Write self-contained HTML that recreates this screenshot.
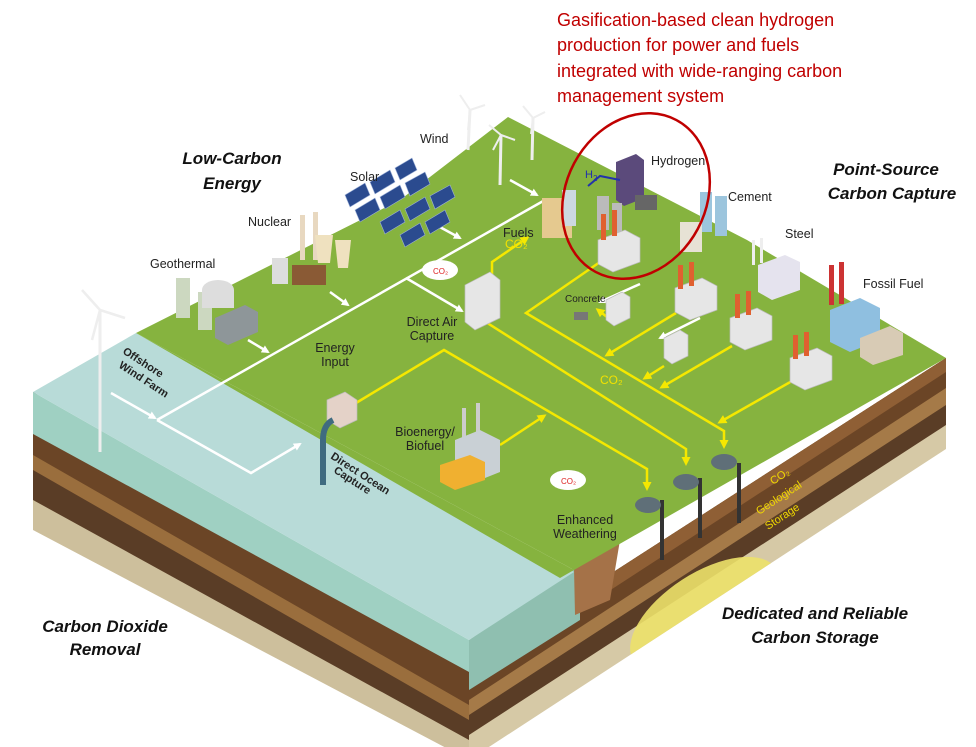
<!DOCTYPE html>
<html><head><meta charset="utf-8"><style>
html,body{margin:0;padding:0;background:#fff;}
svg{display:block}
text{font-family:"Liberation Sans",Arial,sans-serif;}
.lb{font-size:12.5px;fill:#222;}
.big{font-size:17px;font-weight:bold;font-style:italic;fill:#111;}
.red{font-size:18px;fill:#c00000;}
.co{font-size:12px;fill:#f2e200;}
</style></head><body>
<svg width="976" height="747" viewBox="0 0 976 747" xmlns="http://www.w3.org/2000/svg">
<defs>
<marker id="aw" markerWidth="8" markerHeight="8" refX="6" refY="4" orient="auto" markerUnits="userSpaceOnUse"><path d="M0,0 L8,4 L0,8 Z" fill="#fff"/></marker>
<marker id="ay" markerWidth="9" markerHeight="9" refX="6" refY="4.5" orient="auto" markerUnits="userSpaceOnUse"><path d="M0,0 L9,4.5 L0,9 Z" fill="#f5e800"/></marker>
<clipPath id="rf"><polygon points="946,358 946,449 469,760 469,665"/></clipPath>
</defs>
<!-- front-right face layers -->
<polygon points="946,358 946,449 469,760 469,665" fill="#d6c9a6"/>
<polygon points="946,358 946,425 469,735 469,665" fill="#5a3d26"/>
<polygon points="946,358 946,405 469,715 469,665" fill="#a57a48"/>
<polygon points="946,358 946,388 469,700 469,665" fill="#6b4526"/>
<polygon points="946,358 946,372 469,682 469,665" fill="#8f5f35"/>
<g clip-path="url(#rf)"><ellipse cx="705" cy="615" rx="85" ry="42" fill="#ece16a" transform="rotate(-33 705 615)" opacity="0.9"/></g>
<!-- left face layers -->
<polygon points="33,392 33,530 469,760 469,668" fill="#cdbf9c"/>
<polygon points="33,392 33,500 469,740 469,668" fill="#5a3d26"/>
<polygon points="33,392 33,470 469,720 469,668" fill="#9a6e3d"/>
<polygon points="33,392 33,455 469,705 469,668" fill="#6b4526"/>
<polygon points="33,392 33,434 469,672 469,640" fill="#9fd0c2"/>
<!-- cliff -->
<polygon points="469,640 574,568 580,568 580,620 469,690" fill="#8fbfb0"/>
<polygon points="574,568 620,540 610,600 575,615" fill="#a57248"/>
<!-- water top -->
<polygon points="136,333 33,392 469,640 574,572" fill="#b8dbd8"/>
<!-- green top -->
<polygon points="136,333 400,200 508,117 747,240 946,358 574,570" fill="#86b33f"/>
<polygon points="136,333 574,570 560,578" fill="#86b33f"/>
<!-- white energy lines -->
<g stroke="#fff" stroke-width="2.5" fill="none">
<line x1="111" y1="393" x2="155" y2="418" marker-end="url(#aw)"/>
<polyline points="157,420 251,473 300,444" marker-end="url(#aw)"/>
<polyline points="157,420 545,200"/>
<line x1="406" y1="278" x2="462" y2="311" marker-end="url(#aw)"/>
<line x1="330" y1="292" x2="348" y2="305" marker-end="url(#aw)"/>
<line x1="248" y1="340" x2="268" y2="352" marker-end="url(#aw)"/>
<line x1="438" y1="226" x2="460" y2="238" marker-end="url(#aw)"/>
<line x1="510" y1="180" x2="537" y2="195" marker-end="url(#aw)"/>
<line x1="640" y1="284" x2="600" y2="302" marker-end="url(#aw)"/>
<line x1="700" y1="318" x2="660" y2="338" marker-end="url(#aw)"/>
</g>
<!-- yellow CO2 lines -->
<g stroke="#f5e800" stroke-width="2.5" fill="none">
<polyline points="492,292 492,262 527,238" marker-end="url(#ay)"/>
<polyline points="600,262 526,313 724,431 724,446" marker-end="url(#ay)"/>
<polyline points="470,312 686,449 686,463" marker-end="url(#ay)"/>
<polyline points="356,403 444,350 647,469 647,488" marker-end="url(#ay)"/>
<line x1="500" y1="445" x2="544" y2="416" marker-end="url(#ay)"/>
<line x1="676" y1="313" x2="607" y2="355" marker-end="url(#ay)"/>
<line x1="732" y1="346" x2="662" y2="387" marker-end="url(#ay)"/>
<line x1="792" y1="381" x2="720" y2="422" marker-end="url(#ay)"/>
<line x1="664" y1="366" x2="645" y2="378" marker-end="url(#ay)"/>
<line x1="607" y1="317" x2="598" y2="310" marker-end="url(#ay)"/>
</g>
<!-- wells -->
<g>
<rect x="660" y="500" width="4" height="60" fill="#333"/>
<rect x="698" y="478" width="4" height="60" fill="#333"/>
<rect x="737" y="463" width="4" height="60" fill="#333"/>
<ellipse cx="648" cy="505" rx="13" ry="8" fill="#5f6f78"/>
<ellipse cx="686" cy="482" rx="13" ry="8" fill="#5f6f78"/>
<ellipse cx="724" cy="462" rx="13" ry="8" fill="#5f6f78"/>
</g>
<!-- wind turbines -->
<g stroke="#eee" stroke-width="3" fill="none">
<line x1="100" y1="452" x2="100" y2="310"/><path d="M100,310 l-18,-20 M100,310 l25,8 M100,310 l-8,30" stroke-width="2.5"/>
<line x1="468" y1="150" x2="470" y2="110"/><path d="M470,110 l-10,-15 M470,110 l15,-5 M470,110 l-2,20" stroke-width="2"/>
<line x1="500" y1="185" x2="501" y2="135"/><path d="M501,135 l-12,-10 M501,135 l14,5 M501,135 l-8,15" stroke-width="2"/>
<line x1="532" y1="160" x2="533" y2="118"/><path d="M533,118 l-10,-12 M533,118 l12,-6 M533,118 l-2,16" stroke-width="2"/>
</g>
<!-- solar panels -->
<g fill="#2b4b8f" stroke="#9cb0d8" stroke-width="0.6">
<polygon points="345,195 365,183 370,195 350,207"/><polygon points="370,182 390,170 395,182 375,194"/><polygon points="395,168 412,158 417,170 400,180"/>
<polygon points="355,210 375,198 380,210 360,222"/><polygon points="380,197 400,185 405,197 385,209"/><polygon points="405,183 425,172 430,184 410,196"/>
<polygon points="380,222 400,210 405,222 385,234"/><polygon points="405,209 425,197 430,209 410,221"/><polygon points="430,196 450,185 455,197 435,209"/>
<polygon points="400,235 420,223 425,235 405,247"/><polygon points="425,222 445,210 450,222 430,234"/>
</g>
<!-- nuclear -->
<g><rect x="300" y="215" width="5" height="45" fill="#e8d8c0"/><rect x="313" y="212" width="5" height="48" fill="#e8d8c0"/>
<path d="M315,235 h18 l-3,28 h-12z" fill="#efe1bf"/><path d="M335,240 h16 l-3,28 h-10z" fill="#efe1bf"/>
<rect x="292" y="265" width="34" height="20" fill="#8a5a35"/><rect x="272" y="258" width="16" height="26" fill="#ddd"/></g>
<!-- geothermal -->
<g><rect x="176" y="278" width="14" height="40" fill="#ccd8c0"/><rect x="198" y="292" width="14" height="38" fill="#ccd8c0"/><ellipse cx="218" cy="290" rx="16" ry="10" fill="#ddd"/><rect x="202" y="290" width="32" height="18" fill="#ddd"/>
<polygon points="215,318 245,305 258,312 258,332 228,345 215,338" fill="#8e9699"/></g>
<!-- fuels building -->
<rect x="542" y="198" width="30" height="40" fill="#e5c98f"/><rect x="562" y="190" width="14" height="36" fill="#ccd8e0"/>
<!-- hydrogen -->
<g><polygon points="616,162 636,154 644,160 644,198 624,206 616,200" fill="#5b4a7b"/><rect x="597" y="196" width="12" height="34" fill="#bbb"/><rect x="612" y="203" width="10" height="30" fill="#bbb"/><rect x="635" y="195" width="22" height="15" fill="#666"/>
<path d="M620,180 L600,176 L588,186" stroke="#2233aa" stroke-width="2" fill="none"/><text x="585" y="178" font-size="11" fill="#2233aa">H<tspan font-size="8" dy="3">2</tspan></text></g>
<!-- cement -->
<rect x="700" y="192" width="12" height="40" fill="#9cc5dd"/><rect x="715" y="196" width="12" height="40" fill="#9cc5dd"/><rect x="680" y="222" width="22" height="30" fill="#e7e2d5"/>
<!-- steel -->
<rect x="752" y="240" width="3" height="25" fill="#eee"/><rect x="760" y="238" width="3" height="25" fill="#eee"/><polygon points="758,265 785,255 800,262 800,290 772,300 758,292" fill="#e5e3ee"/>
<!-- fossil fuel -->
<rect x="829" y="265" width="5" height="40" fill="#c33"/><rect x="839" y="262" width="5" height="42" fill="#c33"/>
<polygon points="830,310 860,298 880,308 880,340 850,352 830,342" fill="#8fbfe0"/><polygon points="860,338 890,326 903,333 903,355 873,365 860,357" fill="#d8cbb5"/>
<!-- CCS units -->
<g fill="#e6e6e6" stroke="#bbb" stroke-width="0.7">
<polygon points="598,240 625,230 640,238 640,262 613,272 598,264"/>
<polygon points="675,288 702,278 717,286 717,310 690,320 675,312"/>
<polygon points="730,318 757,308 772,316 772,340 745,350 730,342"/>
<polygon points="790,358 817,348 832,356 832,380 805,390 790,382"/>
<polygon points="465,285 490,272 500,280 500,318 475,330 465,322"/>
<polygon points="606,300 622,292 630,297 630,318 614,326 606,320"/>
<polygon points="664,338 680,330 688,335 688,356 672,364 664,358"/>
<polygon points="327,400 345,392 357,400 357,420 340,428 327,420" fill="#e4d2c8"/>
</g>
<g fill="#e06030"><rect x="601" y="214" width="5" height="26"/><rect x="612" y="210" width="5" height="26"/><rect x="678" y="265" width="5" height="24"/><rect x="689" y="262" width="5" height="24"/><rect x="735" y="294" width="5" height="24"/><rect x="746" y="291" width="5" height="24"/><rect x="793" y="335" width="5" height="24"/><rect x="804" y="332" width="5" height="24"/></g>
<path d="M333,420 q-10,5 -10,20 v45" stroke="#3f6b80" stroke-width="6" fill="none"/>
<!-- bioenergy -->
<g><rect x="462" y="408" width="4" height="30" fill="#ccc"/><rect x="476" y="403" width="4" height="30" fill="#ccc"/><polygon points="455,440 480,430 500,440 500,472 475,482 455,472" fill="#c9d0d5"/><polygon points="440,465 470,455 485,462 485,480 455,490 440,482" fill="#f0b030"/></g>
<!-- clouds -->
<ellipse cx="440" cy="270" rx="18" ry="10" fill="#fff"/><ellipse cx="568" cy="480" rx="18" ry="10" fill="#fff"/>
<text x="433" y="274" font-size="8" fill="#d22">CO₂</text><text x="561" y="484" font-size="8" fill="#d22">CO₂</text>
<rect x="574" y="312" width="14" height="8" fill="#777"/>
<!-- red ellipse -->
<ellipse cx="636" cy="196" rx="70" ry="86" fill="none" stroke="#c00000" stroke-width="2.5" transform="rotate(28 636 196)"/>
<!-- labels -->
<text class="red" x="557" y="26">Gasification-based clean hydrogen</text>
<text class="red" x="557" y="51">production for power and fuels</text>
<text class="red" x="557" y="77">integrated with wide-ranging carbon</text>
<text class="red" x="557" y="102">management  system</text>
<text class="big" x="232" y="164" text-anchor="middle">Low-Carbon</text>
<text class="big" x="232" y="189" text-anchor="middle">Energy</text>
<text class="big" x="886" y="175" text-anchor="middle">Point-Source</text>
<text class="big" x="892" y="199" text-anchor="middle">Carbon Capture</text>
<text class="big" x="105" y="632" text-anchor="middle">Carbon Dioxide</text>
<text class="big" x="105" y="655" text-anchor="middle">Removal</text>
<text class="big" x="815" y="619" text-anchor="middle">Dedicated and Reliable</text>
<text class="big" x="815" y="643" text-anchor="middle">Carbon Storage</text>
<text class="lb" x="420" y="143">Wind</text>
<text class="lb" x="350" y="181">Solar</text>
<text class="lb" x="248" y="226">Nuclear</text>
<text class="lb" x="150" y="268">Geothermal</text>
<text class="lb" x="651" y="165">Hydrogen</text>
<text class="lb" x="728" y="201">Cement</text>
<text class="lb" x="785" y="238">Steel</text>
<text class="lb" x="863" y="288">Fossil Fuel</text>
<text class="lb" x="503" y="237">Fuels</text>
<text x="565" y="302" font-size="10" fill="#222">Concrete</text>
<text class="lb" x="432" y="326" text-anchor="middle">Direct Air</text>
<text class="lb" x="432" y="340" text-anchor="middle">Capture</text>
<text class="lb" x="335" y="352" text-anchor="middle" fill="#eef">Energy</text>
<text class="lb" x="335" y="366" text-anchor="middle" fill="#eef">Input</text>
<text class="lb" x="425" y="436" text-anchor="middle">Bioenergy/</text>
<text class="lb" x="425" y="450" text-anchor="middle">Biofuel</text>
<text class="lb" x="585" y="524" text-anchor="middle">Enhanced</text>
<text class="lb" x="585" y="538" text-anchor="middle">Weathering</text>
<text class="co" x="505" y="248">CO₂</text>
<text class="co" x="600" y="384">CO₂</text>
<text x="0" y="0" font-size="11" font-weight="bold" fill="#222" transform="translate(122,353) rotate(33)">Offshore</text>
<text x="0" y="0" font-size="11" font-weight="bold" fill="#222" transform="translate(118,367) rotate(33)">Wind Farm</text>
<text x="0" y="0" font-size="11" font-weight="bold" fill="#222" transform="translate(330,458) rotate(33)">Direct Ocean</text>
<text x="0" y="0" font-size="11" font-weight="bold" fill="#222" transform="translate(333,472) rotate(33)">Capture</text>
<text x="0" y="0" font-size="11" fill="#f0d800" transform="translate(773,485) rotate(-33)">CO₂</text>
<text x="0" y="0" font-size="11" fill="#f0d800" transform="translate(759,515) rotate(-33)">Geological</text>
<text x="0" y="0" font-size="11" fill="#f0d800" transform="translate(768,530) rotate(-33)">Storage</text>
</svg>
</body></html>
